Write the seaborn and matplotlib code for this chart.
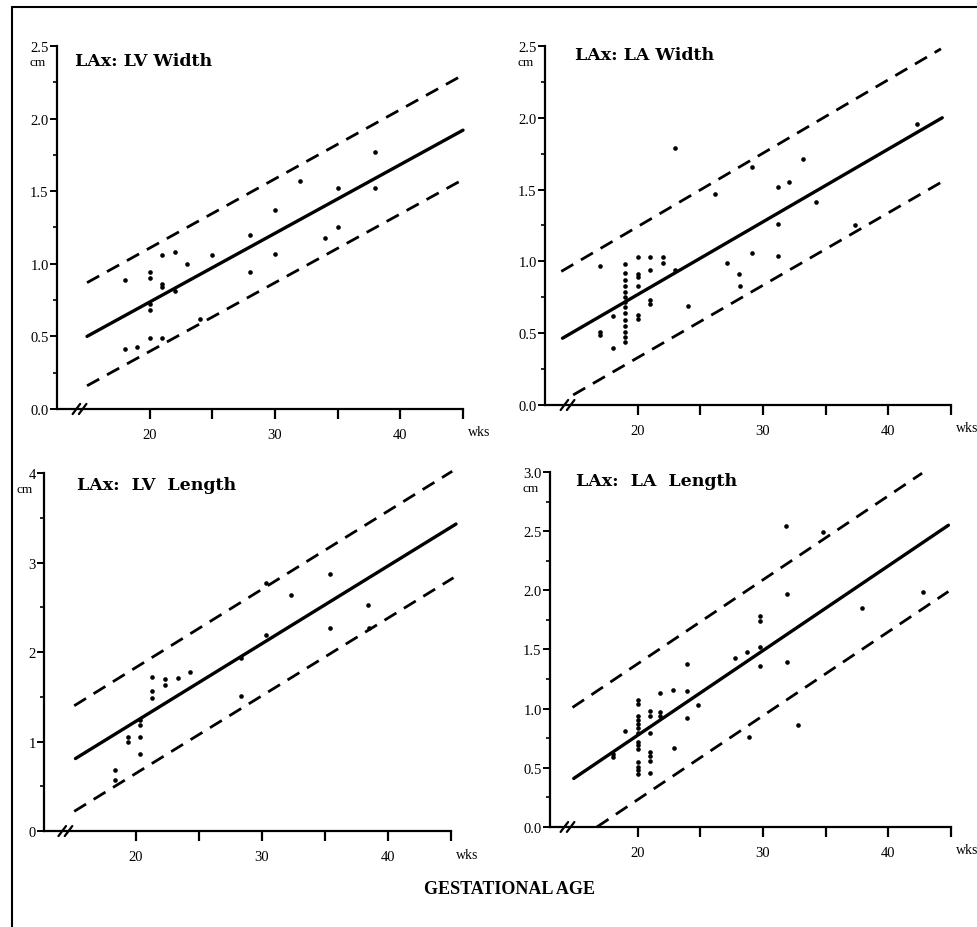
import matplotlib
matplotlib.use("Agg")
import matplotlib.pyplot as plt
from matplotlib.lines import Line2D
from matplotlib.ticker import MultipleLocator, FormatStrFormatter
import seaborn as sns

# --- LAx: LV Width (cm vs gestational weeks) ---
lvw_wk = [18, 18, 19, 20, 20, 20, 20, 20, 21, 21, 21, 21, 22, 22, 23, 24, 25,
          28, 28, 30, 30, 32, 34, 35, 35, 38, 38]
lvw_cm = [0.89, 0.41, 0.43, 0.94, 0.90, 0.72, 0.68, 0.49, 1.06, 0.86, 0.84, 0.49,
          1.08, 0.81, 1.00, 0.62, 1.06, 1.20, 0.94, 1.37, 1.07, 1.57, 1.18, 1.52,
          1.25, 1.77, 1.52]
lvw_fit = ([15, 45], [0.50, 1.92])
lvw_hi = ([15, 45], [0.87, 2.30])
lvw_lo = ([15, 45], [0.16, 1.58])

# --- LAx: LA Width ---
law_wk = [17, 17, 17, 18, 18,
          19, 19, 19, 19, 19, 19, 19, 19, 19, 19, 19, 19, 19, 19,
          20, 20, 20, 20, 20, 20, 21, 21, 21, 21, 22, 22, 23, 23, 24,
          26.2, 27.1, 28.1, 28.2, 29.1, 29.1, 31.2, 31.2, 31.2, 32.1, 33.2,
          34.2, 37.3, 42.3]
law_cm = [0.97, 0.51, 0.49, 0.62, 0.40,
          0.98, 0.92, 0.87, 0.83, 0.79, 0.75, 0.72, 0.68, 0.64, 0.59, 0.55, 0.51, 0.47, 0.44,
          1.03, 0.91, 0.89, 0.83, 0.63, 0.60, 1.03, 0.94, 0.73, 0.70, 1.03, 0.99, 1.79, 0.94, 0.69,
          1.47, 0.99, 0.91, 0.83, 1.66, 1.06, 1.52, 1.26, 1.04, 1.55, 1.71,
          1.41, 1.25, 1.96]
law_fit = ([14.0, 44.3], [0.465, 2.00])
law_hi = ([13.9, 44.2], [0.93, 2.48])
law_lo = ([14.85, 44.2], [0.07, 1.55])

# --- LAx: LV Length ---
lvl_wk = [18.3, 18.3, 19.4, 19.4, 20.3, 20.3, 20.3, 20.3, 21.3, 21.3, 21.3, 22.3,
          22.3, 23.3, 24.3, 28.3, 28.3, 30.3, 30.3, 32.3, 35.4, 35.4, 38.4, 38.5]
lvl_cm = [0.68, 0.57, 1.05, 1.00, 1.24, 1.18, 1.05, 0.86, 1.72, 1.57, 1.49, 1.70,
          1.63, 1.71, 1.78, 1.93, 1.51, 2.19, 2.77, 2.64, 2.87, 2.27, 2.53, 2.27]
lvl_fit = ([15.2, 45.4], [0.81, 3.43])
lvl_hi = ([15.1, 45.1], [1.40, 4.02])
lvl_lo = ([15.1, 45.2], [0.22, 2.83])

# --- LAx: LA Length ---
lal_wk = [18, 18, 19,
          20, 20, 20, 20, 20, 20, 20, 20, 20, 20, 20, 20, 20, 20,
          21, 21, 21, 21, 21, 21, 21,
          21.8, 21.8, 21.8, 22.8, 22.9, 23.9, 23.9, 23.9, 24.8, 27.8, 28.7, 28.9,
          29.8, 29.8, 29.8, 29.8, 31.8, 31.9, 31.9, 32.8, 34.8, 37.9, 42.8]
lal_cm = [0.62, 0.59, 0.81,
          1.07, 1.04, 0.94, 0.90, 0.87, 0.84, 0.79, 0.72, 0.69, 0.66, 0.55, 0.51, 0.48, 0.45,
          0.98, 0.94, 0.79, 0.63, 0.60, 0.56, 0.46,
          1.13, 0.97, 0.94, 1.16, 0.67, 1.38, 1.15, 0.92, 1.03, 1.43, 1.48, 0.76,
          1.78, 1.74, 1.52, 1.36, 2.54, 1.97, 1.39, 0.86, 2.49, 1.85, 1.99]
lal_fit = ([14.9, 44.8], [0.41, 2.55])
lal_hi = ([14.8, 42.7], [1.01, 2.99])
lal_lo = ([16.75, 44.8], [0.00, 1.99])

sns.set_style("ticks")
plt.rcParams["font.family"] = ["Liberation Serif", "DejaVu Serif"]
for key in ("text.color", "axes.edgecolor", "xtick.color", "ytick.color", "axes.labelcolor"):
    plt.rcParams[key] = "black"

fig = plt.figure(figsize=(9.77, 9.28), dpi=100)

# scanned page frame (left and top edges)
fig.add_artist(Line2D([12 / 977, 12 / 977], [0, 1 - 8 / 928], color="black", lw=1.5))
fig.add_artist(Line2D([12 / 977, 1], [1 - 8 / 928, 1 - 8 / 928], color="black", lw=1.5))


def draw_panel(rect, title, title_xy, wk, cm, fit, hi, lo, x0, ymax, ystep, yfmt):
    ax = fig.add_axes(rect)
    sns.lineplot(x=fit[0], y=fit[1], ax=ax, color="black", lw=2.4,
                 estimator=None, sort=False, clip_on=False)
    for band in (hi, lo):
        sns.lineplot(x=band[0], y=band[1], ax=ax, color="black", lw=2.0,
                     linestyle=(0, (5, 3.2)), estimator=None, sort=False, clip_on=False)
    sns.scatterplot(x=wk, y=cm, ax=ax, color="black", s=11, linewidth=0)

    ax.set_xlim(x0, 45)
    ax.set_ylim(0, ymax)
    ax.set_xlabel("")
    ax.set_ylabel("")
    sns.despine(ax=ax)
    for s in ("left", "bottom"):
        ax.spines[s].set_linewidth(1.6)

    ax.set_xticks([20, 25, 30, 35, 40, 45])
    ax.set_xticklabels(["20", "", "30", "", "40", ""])
    ax.yaxis.set_major_locator(MultipleLocator(ystep))
    ax.yaxis.set_minor_locator(MultipleLocator(ystep / 2))
    ax.yaxis.set_major_formatter(FormatStrFormatter(yfmt))
    ax.tick_params(axis="x", direction="out", length=7, width=1.6, pad=7, labelsize=10.5)
    ax.tick_params(axis="y", which="major", direction="out", length=5, width=1.4,
                   pad=1, labelsize=10.5)
    ax.tick_params(axis="y", which="minor", direction="out", length=3, width=1.2)

    # axis break marks
    tr = ax.get_xaxis_transform()
    for xb in (13.85, 14.35):
        ax.plot([xb, xb + 0.6], [-0.014, 0.014], transform=tr, color="black",
                lw=1.6, clip_on=False)

    ax.text(title_xy[0], title_xy[1], title, transform=ax.transAxes,
            fontsize=12.5, family="DejaVu Serif", fontweight="bold",
            va="center", ha="left")
    ax.annotate("cm", xy=(0, 1), xycoords="axes fraction", xytext=(-19, -16),
                textcoords="offset pixels", ha="center", va="center", fontsize=9.5)
    ax.annotate("wks", xy=(1, 0), xycoords="axes fraction", xytext=(5, -23),
                textcoords="offset pixels", ha="left", va="center", fontsize=10)
    return ax


draw_panel([0.0583, 0.5582, 0.4156, 0.3912], "LAx: LV Width", (0.044, 0.961),
           lvw_wk, lvw_cm, lvw_fit, lvw_hi, lvw_lo, 12.6, 2.5, 0.5, "%.1f")
draw_panel([0.5578, 0.5625, 0.4156, 0.3869], "LAx: LA Width", (0.074, 0.975),
           law_wk, law_cm, law_fit, law_hi, law_lo, 12.6, 2.5, 0.5, "%.1f")
draw_panel([0.0450, 0.1034, 0.4166, 0.3858], "LAx:  LV  Length", (0.081, 0.969),
           lvl_wk, lvl_cm, lvl_fit, lvl_hi, lvl_lo, 12.7, 4, 1, "%d")
draw_panel([0.5629, 0.1078, 0.4104, 0.3825], "LAx:  LA  Length", (0.065, 0.977),
           lal_wk, lal_cm, lal_fit, lal_hi, lal_lo, 13.0, 3.0, 0.5, "%.1f")

fig.text(509 / 977, 1 - 890 / 928, "GESTATIONAL AGE", ha="center", va="center",
         fontsize=13, fontweight="bold")

fig.savefig("out.png", dpi=100)
